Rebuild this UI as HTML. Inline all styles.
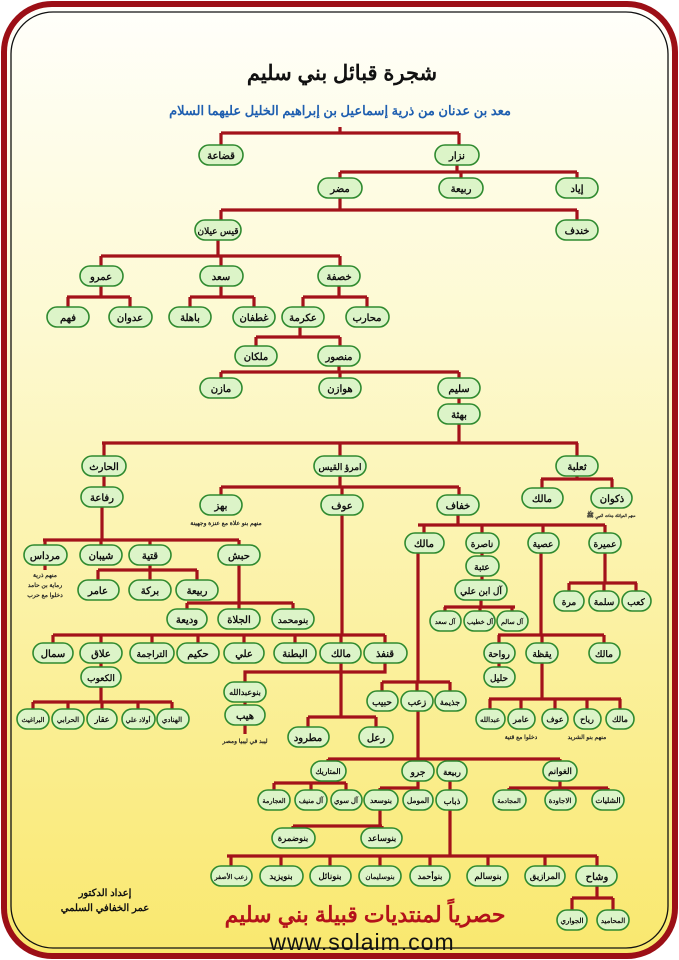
<!DOCTYPE html>
<html><head><meta charset="utf-8"><style>
html,body{margin:0;padding:0;background:#fff;width:679px;height:960px;overflow:hidden}
svg{display:block}
.n rect{fill:#dcf4c8;stroke:#2f8a2f;stroke-width:1.6}
.n text,.t{font-family:"Liberation Sans","Noto Sans CJK SC",sans-serif;font-weight:bold;text-anchor:middle;fill:#111}
.l{stroke:#a3121a;stroke-width:3.2;fill:none}
.note{font-family:"Liberation Sans","Noto Sans CJK SC",sans-serif;font-weight:bold;text-anchor:middle;fill:#222}
</style></head><body>
<svg width="679" height="960" viewBox="0 0 679 960" xmlns="http://www.w3.org/2000/svg">
<defs><linearGradient id="bg" x1="0" y1="0" x2="0" y2="1">
<stop offset="0" stop-color="#fffffb"/><stop offset="0.35" stop-color="#fdf9d0"/><stop offset="1" stop-color="#f9e86e"/></linearGradient></defs>
<rect x="4" y="4" width="671" height="952" rx="48" fill="url(#bg)" stroke="#9c0f16" stroke-width="6"/>
<rect x="11" y="12" width="657" height="936" rx="42" fill="none" stroke="#111" stroke-width="1.3"/>
<text class="t" x="342" y="80" font-size="21" direction="rtl">شجرة قبائل بني سليم</text>
<text class="t" x="340" y="115" font-size="13" style="fill:#1f5fb0" direction="rtl">معد بن عدنان من ذرية إسماعيل بن إبراهيم الخليل عليهما السلام</text>
<path class="l" d="
M340 127V133M221 133H459M221 133V146M459 133V146
M457 164V172M340 172H577M340 172V179M461 172V179M577 172V179
M340 197V210M221 210H577M221 210V221M577 210V221
M218 239V256M101 256H340M101 256V267M221 256V267M340 256V267
M101 285V297M67 297H130M68 297V308M130 297V308
M221 285V297M190 297H254M190 297V308M254 297V308
M339 285V297M303 297H367M303 297V308M367 297V308
M300 326V337M256 337H340M256 337V347M340 337V347
M339 365V372M221 372H459M221 372V379M340 372V379M459 372V379
M459 397V405M459 423V443M102 443H578M104 443V457M340 443V457M577 443V457
M577 475V479M541 479H613M542 479V489M612 479V489
M104 475V488
M340 475V487M221 487H459M221 487V496M342 487V496M459 487V496
M458 514V525M418 525H605M424 525V534M482 525V534M543 525V534M605 525V534
M482 552V557M482 575V581M481 599V607M444 607H515M445 607V612M480 607V612M512 607V612
M605 552V583M569 583H637M569 583V592M604 583V592M636 583V592
M541 552V635M498 635H604M499 635V644M542 635V644M604 635V644
M499 662V668
M542 662V699M489 699H621M490 699V710M521 699V710M555 699V710M587 699V710M620 699V710
M102 506V540M43 540H239M45 540V546M101 540V546M150 540V546M239 540V546
M45 564V570
M150 564V570M98 570H197M98 570V581M150 570V581M197 570V581
M239 564V603M187 603H293M187 603V610M239 603V610M293 603V610
M342 514V635M53 635H385M53 635V644M101 635V644M152 635V644M198 635V644M244 635V644M295 635V644M341 635V644M385 635V644
M101 662V668M101 686V702M33 702H172M33 702V710M68 702V710M102 702V710M138 702V710M172 702V710
M385 662V672H245V683M245 701V706M245 724V734
M341 662V717M308 717H376M308 717V728M376 717V728
M418 552V682M382 682H450M382 682V692M417 682V692M450 682V692
M418 710V759M328 759H560M328 759V762M418 759V762M453 759V762M560 759V762
M328 780V783M274 783H346M274 783V791M311 783V791M346 783V791
M418 780V788M380 788H418V791M380 788V791
M450 780V856
M560 780V788M509 788H608M509 788V791M560 788V791M608 788V791
M380 809V826M293 826H382M293 826V829M382 826V829
M227 856H597M231 856V867M281 856V867M330 856V867M380 856V867M430 856V867M488 856V867M545 856V867M597 856V867
M597 885V898M572 898H613M572 898V911M613 898V911
"/>
<g class="n" direction="rtl" font-size="10">
<rect x="199" y="145" width="44" height="20" rx="10"/><text x="221" y="159">قضاعة</text>
<rect x="435" y="145" width="44" height="20" rx="10"/><text x="457" y="159">نزار</text>
<rect x="318" y="178" width="44" height="20" rx="10"/><text x="340" y="192">مضر</text>
<rect x="439" y="178" width="44" height="20" rx="10"/><text x="461" y="192">ربيعة</text>
<rect x="556" y="178" width="42" height="20" rx="10"/><text x="577" y="192">إياد</text>
<rect x="195" y="220" width="46" height="20" rx="10"/><text x="218" y="234" font-size="9">قيس عيلان</text>
<rect x="556" y="220" width="42" height="20" rx="10"/><text x="577" y="234">خندف</text>
<rect x="80" y="266" width="43" height="20" rx="10"/><text x="101" y="280">عمرو</text>
<rect x="200" y="266" width="43" height="20" rx="10"/><text x="221" y="280">سعد</text>
<rect x="318" y="266" width="42" height="20" rx="10"/><text x="339" y="280">خصفة</text>
<rect x="47" y="307" width="42" height="20" rx="10"/><text x="68" y="321">فهم</text>
<rect x="109" y="307" width="43" height="20" rx="10"/><text x="130" y="321">عدوان</text>
<rect x="169" y="307" width="42" height="20" rx="10"/><text x="190" y="321">باهلة</text>
<rect x="233" y="307" width="42" height="20" rx="10"/><text x="254" y="321">غطفان</text>
<rect x="282" y="307" width="42" height="20" rx="10"/><text x="303" y="321">عكرمة</text>
<rect x="346" y="307" width="43" height="20" rx="10"/><text x="367" y="321">محارب</text>
<rect x="235" y="346" width="42" height="20" rx="10"/><text x="256" y="360">ملكان</text>
<rect x="318" y="346" width="42" height="20" rx="10"/><text x="339" y="360">منصور</text>
<rect x="200" y="378" width="42" height="20" rx="10"/><text x="221" y="392">مازن</text>
<rect x="319" y="378" width="42" height="20" rx="10"/><text x="340" y="392">هوازن</text>
<rect x="438" y="378" width="42" height="20" rx="10"/><text x="459" y="392">سليم</text>
<rect x="438" y="404" width="42" height="20" rx="10"/><text x="459" y="418">بهثة</text>
<rect x="82" y="456" width="44" height="20" rx="10"/><text x="104" y="470">الحارث</text>
<rect x="314" y="456" width="52" height="20" rx="10"/><text x="340" y="470" font-size="9">امرؤ القيس</text>
<rect x="556" y="456" width="42" height="20" rx="10"/><text x="577" y="470">ثعلبة</text>
<rect x="522" y="488" width="41" height="20" rx="10"/><text x="542" y="502">مالك</text>
<rect x="591" y="488" width="41" height="20" rx="10"/><text x="612" y="502">ذكوان</text>
<rect x="81" y="487" width="42" height="20" rx="10"/><text x="102" y="501">رفاعة</text>
<rect x="200" y="495" width="42" height="20" rx="10"/><text x="221" y="509">بهز</text>
<rect x="321" y="495" width="42" height="20" rx="10"/><text x="342" y="509">عوف</text>
<rect x="437" y="495" width="42" height="20" rx="10"/><text x="458" y="509">خفاف</text>
<rect x="405" y="533" width="39" height="20" rx="10"/><text x="424" y="547">مالك</text>
<rect x="466" y="533" width="33" height="20" rx="10"/><text x="482" y="547" font-size="9">ناصرة</text>
<rect x="528" y="533" width="31" height="20" rx="10"/><text x="543" y="547" font-size="9">عصية</text>
<rect x="589" y="533" width="32" height="20" rx="10"/><text x="605" y="547" font-size="9">عميرة</text>
<rect x="466" y="556" width="33" height="20" rx="10"/><text x="482" y="570" font-size="9">عتبة</text>
<rect x="455" y="580" width="52" height="20" rx="10"/><text x="481" y="594" font-size="9">آل ابن علي</text>
<rect x="430" y="611" width="31" height="20" rx="10"/><text x="445" y="624" font-size="6.5">آل سعد</text>
<rect x="464" y="611" width="31" height="20" rx="10"/><text x="480" y="624" font-size="6.5">آل خطيب</text>
<rect x="497" y="611" width="31" height="20" rx="10"/><text x="512" y="624" font-size="6.5">آل سالم</text>
<rect x="554" y="591" width="30" height="20" rx="10"/><text x="569" y="605" font-size="9">مرة</text>
<rect x="589" y="591" width="30" height="20" rx="10"/><text x="604" y="605" font-size="9">سلمة</text>
<rect x="622" y="591" width="29" height="20" rx="10"/><text x="636" y="605" font-size="9">كعب</text>
<rect x="484" y="643" width="31" height="20" rx="10"/><text x="499" y="657" font-size="9">رواحة</text>
<rect x="526" y="643" width="32" height="20" rx="10"/><text x="542" y="657" font-size="9">يقظة</text>
<rect x="589" y="643" width="31" height="20" rx="10"/><text x="604" y="657" font-size="9">مالك</text>
<rect x="484" y="667" width="31" height="20" rx="10"/><text x="499" y="681" font-size="9">حليل</text>
<rect x="476" y="709" width="29" height="20" rx="10"/><text x="490" y="722" font-size="7">عبدالله</text>
<rect x="508" y="709" width="27" height="20" rx="10"/><text x="521" y="722" font-size="8">عامر</text>
<rect x="542" y="709" width="26" height="20" rx="10"/><text x="555" y="722" font-size="8">عوف</text>
<rect x="574" y="709" width="27" height="20" rx="10"/><text x="587" y="722" font-size="8">رياح</text>
<rect x="606" y="709" width="28" height="20" rx="10"/><text x="620" y="722" font-size="8">مالك</text>
<rect x="24" y="545" width="43" height="20" rx="10"/><text x="45" y="559">مرداس</text>
<rect x="80" y="545" width="42" height="20" rx="10"/><text x="101" y="559">شيبان</text>
<rect x="129" y="545" width="42" height="20" rx="10"/><text x="150" y="559">قتية</text>
<rect x="218" y="545" width="42" height="20" rx="10"/><text x="239" y="559">حبش</text>
<rect x="78" y="580" width="41" height="20" rx="10"/><text x="98" y="594">عامر</text>
<rect x="129" y="580" width="42" height="20" rx="10"/><text x="150" y="594">بركة</text>
<rect x="176" y="580" width="42" height="20" rx="10"/><text x="197" y="594">ربيعة</text>
<rect x="167" y="609" width="40" height="20" rx="10"/><text x="187" y="623">وديعة</text>
<rect x="218" y="609" width="42" height="20" rx="10"/><text x="239" y="623">الجلاة</text>
<rect x="272" y="609" width="42" height="20" rx="10"/><text x="293" y="623" font-size="9">بنومحمد</text>
<rect x="33" y="643" width="40" height="20" rx="10"/><text x="53" y="657">سمال</text>
<rect x="80" y="643" width="42" height="20" rx="10"/><text x="101" y="657">علاق</text>
<rect x="130" y="643" width="44" height="20" rx="10"/><text x="152" y="657" font-size="9">التراجمة</text>
<rect x="177" y="643" width="42" height="20" rx="10"/><text x="198" y="657">حكيم</text>
<rect x="224" y="643" width="40" height="20" rx="10"/><text x="244" y="657">علي</text>
<rect x="274" y="643" width="42" height="20" rx="10"/><text x="295" y="657">البطنة</text>
<rect x="320" y="643" width="41" height="20" rx="10"/><text x="341" y="657">مالك</text>
<rect x="364" y="643" width="43" height="20" rx="10"/><text x="385" y="657">قنفذ</text>
<rect x="81" y="667" width="40" height="20" rx="10"/><text x="101" y="681" font-size="9">الكعوب</text>
<rect x="17" y="709" width="32" height="20" rx="10"/><text x="33" y="722" font-size="6.5">البراغيث</text>
<rect x="52" y="709" width="32" height="20" rx="10"/><text x="68" y="722" font-size="7">الحرابي</text>
<rect x="87" y="709" width="30" height="20" rx="10"/><text x="102" y="722" font-size="8">عقار</text>
<rect x="122" y="709" width="33" height="20" rx="10"/><text x="138" y="722" font-size="6.5">أولاد علي</text>
<rect x="157" y="709" width="32" height="20" rx="10"/><text x="172" y="722" font-size="7">الهنادي</text>
<rect x="224" y="682" width="42" height="20" rx="10"/><text x="245" y="695" font-size="8">بنوعبدالله</text>
<rect x="225" y="705" width="40" height="20" rx="10"/><text x="245" y="719">هيب</text>
<rect x="288" y="727" width="41" height="20" rx="10"/><text x="308" y="741">مطرود</text>
<rect x="359" y="727" width="34" height="20" rx="10"/><text x="376" y="741">رعل</text>
<rect x="367" y="691" width="31" height="20" rx="10"/><text x="382" y="705" font-size="9">حبيب</text>
<rect x="401" y="691" width="32" height="20" rx="10"/><text x="417" y="705" font-size="9">زعب</text>
<rect x="435" y="691" width="31" height="20" rx="10"/><text x="450" y="705" font-size="8">جذيمة</text>
<rect x="311" y="761" width="35" height="20" rx="10"/><text x="328" y="774" font-size="7.5">المتاريك</text>
<rect x="402" y="761" width="32" height="20" rx="10"/><text x="418" y="775" font-size="9">جرو</text>
<rect x="437" y="761" width="30" height="20" rx="10"/><text x="452" y="775" font-size="8.5">ربيعة</text>
<rect x="543" y="761" width="34" height="20" rx="10"/><text x="560" y="774" font-size="8.5">الغوانم</text>
<rect x="258" y="790" width="32" height="20" rx="10"/><text x="274" y="803" font-size="6.5">العجارمة</text>
<rect x="295" y="790" width="32" height="20" rx="10"/><text x="311" y="803" font-size="7">آل منيف</text>
<rect x="331" y="790" width="31" height="20" rx="10"/><text x="346" y="803" font-size="7">آل سوي</text>
<rect x="364" y="790" width="34" height="20" rx="10"/><text x="381" y="803" font-size="7.5">بنوسعد</text>
<rect x="403" y="790" width="30" height="20" rx="10"/><text x="418" y="803" font-size="7.5">المومل</text>
<rect x="436" y="790" width="31" height="20" rx="10"/><text x="452" y="804" font-size="8.5">ذباب</text>
<rect x="493" y="790" width="33" height="20" rx="10"/><text x="509" y="803" font-size="6.5">المجادمة</text>
<rect x="545" y="790" width="31" height="20" rx="10"/><text x="560" y="803" font-size="7">الاجاودة</text>
<rect x="592" y="790" width="32" height="20" rx="10"/><text x="608" y="803" font-size="7.5">الشليات</text>
<rect x="272" y="828" width="43" height="20" rx="10"/><text x="293" y="841" font-size="8.5">بنوضمرة</text>
<rect x="361" y="828" width="41" height="20" rx="10"/><text x="382" y="841" font-size="8.5">بنوساعد</text>
<rect x="211" y="866" width="41" height="20" rx="10"/><text x="231" y="879" font-size="6.5">زعب الأصفر</text>
<rect x="260" y="866" width="43" height="20" rx="10"/><text x="281" y="879" font-size="8.5">بنويزيد</text>
<rect x="310" y="866" width="41" height="20" rx="10"/><text x="330" y="879" font-size="8.5">بنونائل</text>
<rect x="359" y="866" width="42" height="20" rx="10"/><text x="380" y="879" font-size="7">بنوسليمان</text>
<rect x="410" y="866" width="40" height="20" rx="10"/><text x="430" y="879" font-size="8">بنوأحمد</text>
<rect x="467" y="866" width="41" height="20" rx="10"/><text x="488" y="879" font-size="8.5">بنوسالم</text>
<rect x="525" y="866" width="40" height="20" rx="10"/><text x="545" y="879" font-size="8.5">المرازيق</text>
<rect x="576" y="866" width="41" height="20" rx="10"/><text x="597" y="880">وشاح</text>
<rect x="557" y="910" width="30" height="20" rx="10"/><text x="572" y="923" font-size="7">الجواري</text>
<rect x="597" y="910" width="32" height="20" rx="10"/><text x="613" y="923" font-size="7">المحاميد</text>
</g>
<g direction="rtl">
<text class="note" font-size="6" x="611" y="517">منهم العواتك جدات النبي ﷺ</text>
<text class="note" font-size="6" x="226" y="525">منهم بنو علاة مع عنزة وجهينة</text>
<text class="note" font-size="6" x="45" y="577">منهم ذرية</text>
<text class="note" font-size="6" x="45" y="587">رماية بن حامد</text>
<text class="note" font-size="6" x="45" y="597">دخلوا مع حرب</text>
<text class="note" font-size="6" x="521" y="739">دخلوا مع قتية</text>
<text class="note" font-size="6" x="587" y="739">منهم بنو الشريد</text>
<text class="note" font-size="6" x="245" y="743">ليبد في ليبيا ومصر</text>
<text class="t" x="105" y="896" font-size="10" direction="rtl">إعداد الدكتور</text>
<text class="t" x="105" y="911" font-size="10" direction="rtl">عمر الخفافي السلمي</text>
<text class="t" x="365" y="922" font-size="22" style="fill:#b3121a" direction="rtl">حصرياً لمنتديات قبيلة بني سليم</text>
</g>
<text x="362" y="950" font-family="Liberation Sans, sans-serif" font-size="23" text-anchor="middle" fill="#111" letter-spacing="1">www.solaim.com</text>
</svg>
</body></html>
